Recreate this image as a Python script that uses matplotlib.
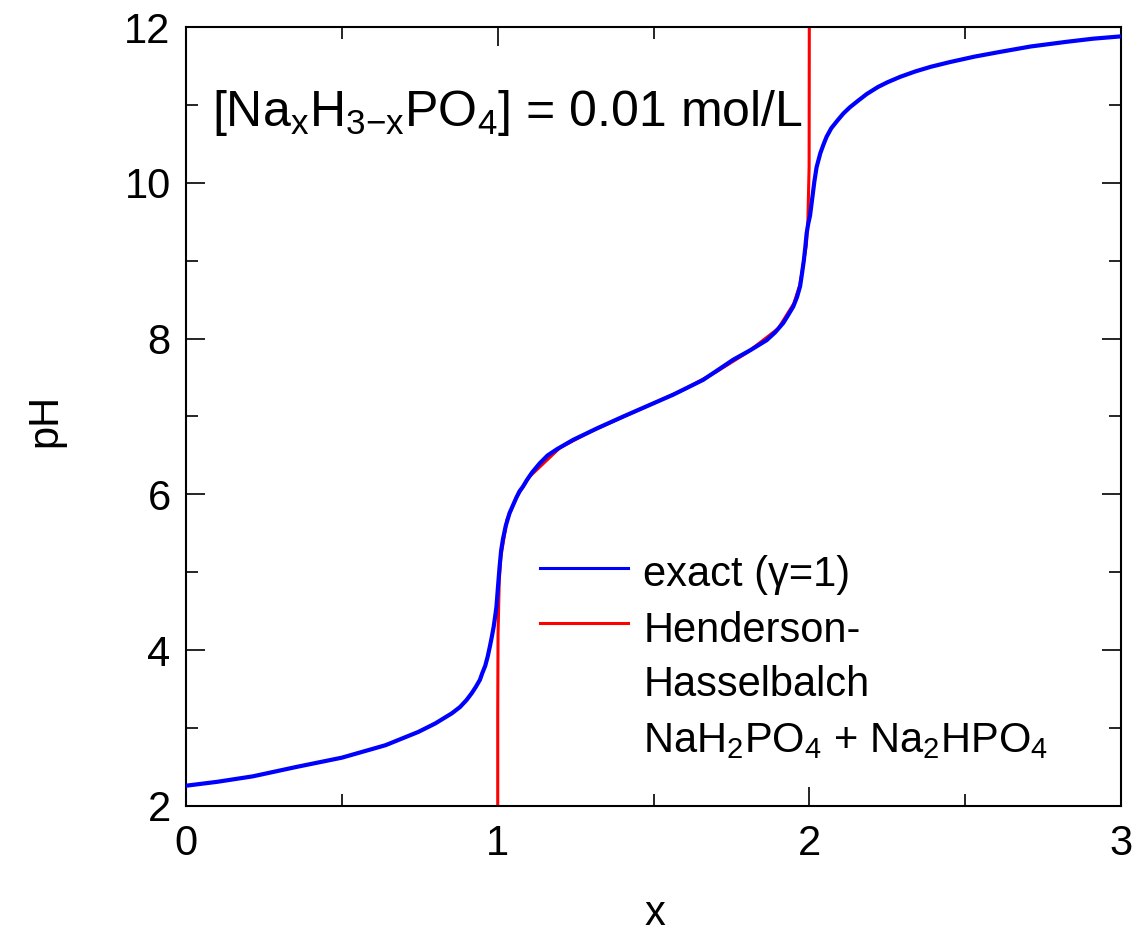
#!/usr/bin/env python3
"""Titration curve of NaxH3-xPO4 (0.01 mol/L): exact vs Henderson-Hasselbalch."""
import matplotlib
matplotlib.use('Agg')
import matplotlib.pyplot as plt

# exact curve (gamma = 1)
x_exact = [0.0, 0.1, 0.214, 0.353, 0.5, 0.64, 0.745, 0.80, 0.853, 0.879,
           0.90, 0.917, 0.93, 0.943, 0.95, 0.96, 0.968, 0.975, 0.981,
           0.987, 0.992, 0.996, 1.001, 1.006, 1.011, 1.017, 1.026, 1.038,
           1.049, 1.06, 1.07, 1.081, 1.093, 1.11, 1.135, 1.16, 1.19, 1.242,
           1.32, 1.403, 1.563, 1.659, 1.756, 1.81, 1.863, 1.89, 1.916, 1.93,
           1.948, 1.96, 1.970, 1.976, 1.982, 1.987, 1.991, 1.996, 2.002,
           2.01, 2.016, 2.023, 2.035, 2.045, 2.055, 2.07, 2.09, 2.109, 2.13,
           2.155, 2.184, 2.22, 2.25, 2.291, 2.34, 2.39, 2.451, 2.53, 2.611,
           2.71, 2.825, 2.91, 3.0]
ph_exact = [2.26, 2.31, 2.38, 2.50, 2.62, 2.78, 2.95, 3.06, 3.19, 3.27,
            3.36, 3.45, 3.53, 3.62, 3.70, 3.80, 3.92, 4.05, 4.17,
            4.30, 4.44, 4.56, 4.82, 5.07, 5.28, 5.43, 5.60, 5.76,
            5.86, 5.96, 6.04, 6.10, 6.18, 6.28, 6.40, 6.50, 6.58, 6.70,
            6.85, 7.00, 7.28, 7.47, 7.73, 7.85, 7.98, 8.08, 8.20, 8.29,
            8.41, 8.53, 8.67, 8.83, 9.00, 9.18, 9.35, 9.47, 9.58,
            9.83, 10.02, 10.20, 10.38, 10.49, 10.59, 10.70, 10.80, 10.89, 10.97,
            11.05, 11.14, 11.23, 11.29, 11.36, 11.43, 11.49, 11.55, 11.62, 11.68,
            11.75, 11.81, 11.85, 11.88]

# Henderson-Hasselbalch, NaH2PO4 + Na2HPO4 buffer
x_hh = [1.0, 1.0001, 1.001, 1.005, 1.01, 1.03, 1.06, 1.1, 1.2, 1.3, 1.4,
        1.5, 1.6, 1.7, 1.8, 1.9, 1.95, 1.97, 1.99, 1.995, 1.999, 2.0]
ph_hh = [1.0, 3.2, 4.2, 4.9, 5.2, 5.68, 5.96, 6.22, 6.6, 6.81, 6.99,
         7.17, 7.35, 7.57, 7.82, 8.13, 8.45, 8.7, 9.2, 9.5, 10.2, 13.0]

x_ticks = [0, 1, 2, 3]
y_ticks = [2, 4, 6, 8, 10, 12]

plt.rcParams['font.family'] = ['Liberation Sans', 'DejaVu Sans']
plt.rcParams['mathtext.fontset'] = 'custom'
plt.rcParams['mathtext.rm'] = 'Liberation Sans'
plt.rcParams['mathtext.it'] = 'Liberation Sans'

fig = plt.figure(figsize=(11.44, 9.41), dpi=100)
ax = fig.add_axes([0.1626, 0.1435, 0.8174, 0.8278])

ax.plot(x_hh, ph_hh, color='#ff0000', lw=2.2, zorder=2)
ax.plot(x_exact, ph_exact, color='#0000ff', lw=3.0, zorder=3)

ax.set_xlim(0, 3)
ax.set_ylim(2, 12)
ax.set_xticks(x_ticks)
ax.set_yticks(y_ticks)
ax.set_xticks([0.5, 1.5, 2.5], minor=True)
ax.set_yticks([3, 5, 7, 9, 11], minor=True)
ax.tick_params(which='both', direction='in', top=True, right=True,
               labelsize=30, width=1.2)
ax.tick_params(axis='x', which='major', length=14, pad=13)
ax.tick_params(axis='y', which='major', length=14, pad=11)
ax.tick_params(which='minor', length=8.5)
for sp in ax.spines.values():
    sp.set_linewidth(1.5)

ax.set_xlabel('x', fontsize=30)
ax.set_ylabel('pH', fontsize=30)
ax.xaxis.set_label_coords(0.5016, -0.113)
ax.yaxis.set_label_coords(-0.129, 0.495)

ax.text(0.028, 0.873, r'[Na$_\mathrm{x}$H$_{3\mathrm{-x}}$PO$_4$] = 0.01 mol/L',
        transform=ax.transAxes, fontsize=36, va='baseline', ha='left')

# legend drawn by hand so the multi-line label hangs from its handle
tr = ax.transAxes
ax.plot([0.379, 0.473], [0.3055, 0.3055], color='#0000ff', lw=2.2,
        transform=tr, clip_on=False)
ax.plot([0.379, 0.473], [0.235, 0.235], color='#ff0000', lw=2.2,
        transform=tr, clip_on=False)
legend_lines = ['exact (γ=1)', 'Henderson-', 'Hasselbalch',
                r'NaH$_2$PO$_4$ + Na$_2$HPO$_4$']
legend_base = [0.2824, 0.2105, 0.1412, 0.0693]
for txt, yb in zip(legend_lines, legend_base):
    ax.text(0.489, yb, txt, transform=tr, fontsize=30,
            va='baseline', ha='left')

plt.savefig('out.png', dpi=100)
print('Saved: out.png')
